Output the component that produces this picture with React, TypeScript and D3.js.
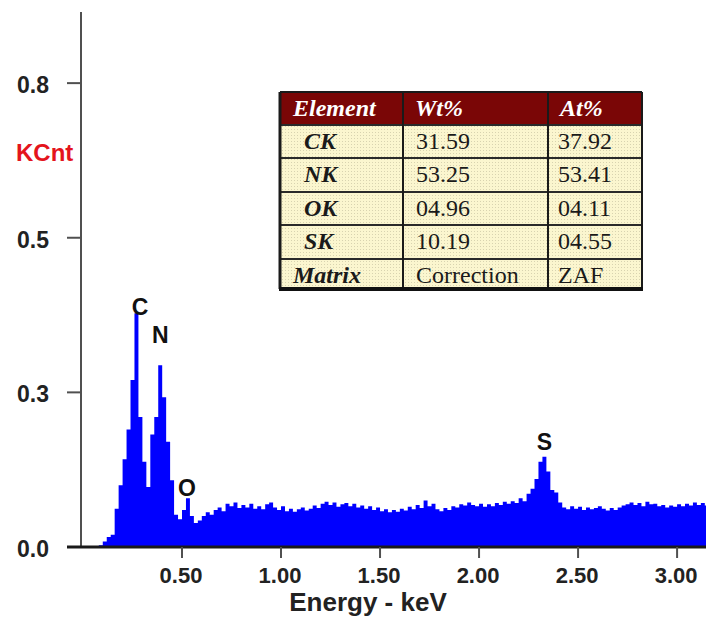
import React, { useEffect, useRef } from 'react';
import * as d3 from 'd3';

// EDS spectrum, one value per 0.02 keV channel, starting at 0.00 keV
const channelStart = 0;
const channelWidth = 0.02;
const counts = [
  0, 0, 0, 0, 0.003, 0.009, 0.016, 0.02, 0.062, 0.1,
  0.142, 0.19, 0.27, 0.378, 0.21, 0.138, 0.097, 0.182, 0.21, 0.294,
  0.242, 0.17, 0.108, 0.052, 0.045, 0.06, 0.079, 0.05, 0.039, 0.043,
  0.05, 0.056, 0.052, 0.06, 0.064, 0.058, 0.07, 0.066, 0.072, 0.063,
  0.068, 0.064, 0.07, 0.062, 0.066, 0.061, 0.069, 0.072, 0.064, 0.06,
  0.066, 0.058, 0.062, 0.057, 0.061, 0.064, 0.059, 0.062, 0.067, 0.063,
  0.07, 0.073, 0.068, 0.072, 0.065, 0.069, 0.071, 0.066, 0.07, 0.064,
  0.067, 0.062, 0.066, 0.06, 0.064, 0.058, 0.061, 0.056, 0.06, 0.057,
  0.062, 0.059, 0.065, 0.061, 0.068, 0.063, 0.075, 0.066, 0.07, 0.061,
  0.058, 0.063, 0.06, 0.066, 0.064, 0.069, 0.067, 0.072, 0.068, 0.066,
  0.07, 0.065, 0.069, 0.066, 0.071, 0.068, 0.073, 0.07, 0.074, 0.071,
  0.079, 0.074, 0.086, 0.094, 0.11, 0.138, 0.146, 0.122, 0.092, 0.088,
  0.072, 0.064, 0.061, 0.066, 0.062, 0.065, 0.06, 0.064, 0.061, 0.063,
  0.066, 0.062, 0.059, 0.063, 0.06, 0.064, 0.067, 0.069, 0.072, 0.068,
  0.071, 0.066, 0.073, 0.069, 0.07, 0.066, 0.068, 0.064, 0.067, 0.065,
  0.069, 0.066, 0.07, 0.067, 0.072, 0.068, 0.071, 0.067, 0.07,
];

// axis ticks (labels are rounded to one decimal, as in the instrument software)
const yTickValues = [0, 0.25, 0.5, 0.75];
const yTickLabels = ['0.0', '0.3', '0.5', '0.8'];
const xTickValues = [0.5, 1.0, 1.5, 2.0, 2.5, 3.0];
const xTickLabels = ['0.50', '1.00', '1.50', '2.00', '2.50', '3.00'];

// peak labels (energy, KCnt of label baseline)
const peakNames = ['C', 'N', 'O', 'S'];
const peakEnergies = [0.288, 0.39, 0.525, 2.33];
const peakLabelValues = [0.375, 0.33, 0.082, 0.157];

// quantification table
const tableHeader = ['Element', 'Wt%', 'At%'];
const elementNames = ['CK', 'NK', 'OK', 'SK', 'Matrix'];
const wtPercent = ['31.59', '53.25', '04.96', '10.19', 'Correction'];
const atPercent = ['37.92', '53.41', '04.11', '04.55', 'ZAF'];

const W = 706;
const H = 619;
const SANS = '"Liberation Sans", Arial, sans-serif';
const SERIF = '"Liberation Serif", "Times New Roman", serif';

export default function App() {
  const ref = useRef<SVGSVGElement>(null);

  useEffect(() => {
    const svg = d3.select(ref.current);
    svg.selectAll('*').remove();

    const x = d3.scaleLinear().domain([-0.01, 3.146]).range([81, 706]);
    const y = d3.scaleLinear().domain([0, 0.865]).range([547, 12]);

    const data = counts.map((v, i) => ({ e: channelStart + i * channelWidth, v }));

    // dotted cell texture of the table
    const defs = svg.append('defs');
    const pat = defs
      .append('pattern')
      .attr('id', 'dots')
      .attr('width', 3)
      .attr('height', 3)
      .attr('patternUnits', 'userSpaceOnUse');
    pat.append('rect').attr('width', 3).attr('height', 3).attr('fill', '#fbf6cf');
    pat.append('rect').attr('width', 1).attr('height', 1).attr('fill', '#d8d3b0');

    // spectrum
    const area = d3
      .area<{ e: number; v: number }>()
      .x((d) => x(d.e))
      .y0(y(0))
      .y1((d) => y(d.v))
      .curve(d3.curveStepAfter);
    svg.append('path').datum(data).attr('d', area).attr('fill', '#0000ff');

    // y axis
    svg
      .append('line')
      .attr('x1', 81)
      .attr('x2', 81)
      .attr('y1', 12)
      .attr('y2', y(0))
      .attr('stroke', '#505050')
      .attr('stroke-width', 2);
    const yt = svg.append('g');
    yTickValues.forEach((t, i) => {
      yt.append('line')
        .attr('x1', 67)
        .attr('x2', 81)
        .attr('y1', y(t))
        .attr('y2', y(t))
        .attr('stroke', '#505050')
        .attr('stroke-width', 2);
      yt.append('text')
        .attr('x', 49)
        .attr('y', y(t) + 10)
        .attr('text-anchor', 'end')
        .style('font-family', SANS)
        .style('font-weight', 'bold')
        .style('font-size', '23px')
        .attr('fill', '#222')
        .text(yTickLabels[i]);
    });
    svg
      .append('text')
      .attr('x', 16)
      .attr('y', 161)
      .style('font-family', SANS)
      .style('font-weight', 'bold')
      .style('font-size', '24px')
      .attr('fill', '#e4141c')
      .text('KCnt');

    // x axis
    svg
      .append('line')
      .attr('x1', 67)
      .attr('x2', W)
      .attr('y1', y(0))
      .attr('y2', y(0))
      .attr('stroke', '#1a1a1a')
      .attr('stroke-width', 3);
    const xt = svg.append('g');
    xTickValues.forEach((t, i) => {
      xt.append('line')
        .attr('x1', x(t))
        .attr('x2', x(t))
        .attr('y1', y(0))
        .attr('y2', y(0) + 11)
        .attr('stroke', '#505050')
        .attr('stroke-width', 2);
      xt.append('text')
        .attr('x', x(t) - 1)
        .attr('y', 583)
        .attr('text-anchor', 'middle')
        .style('font-family', SANS)
        .style('font-weight', 'bold')
        .style('font-size', '22px')
        .attr('fill', '#222')
        .text(xTickLabels[i]);
    });
    svg
      .append('text')
      .attr('x', 368)
      .attr('y', 611)
      .attr('text-anchor', 'middle')
      .style('font-family', SANS)
      .style('font-weight', 'bold')
      .style('font-size', '26px')
      .attr('fill', '#222')
      .text('Energy - keV');

    // peak labels
    peakNames.forEach((p, i) => {
      svg
        .append('text')
        .attr('x', x(peakEnergies[i]))
        .attr('y', y(peakLabelValues[i]))
        .attr('text-anchor', 'middle')
        .style('font-family', SANS)
        .style('font-weight', 'bold')
        .style('font-size', '23px')
        .attr('fill', '#111')
        .text(p);
    });

    // table
    const colX = [280, 403, 548, 642];
    const rowY = [92, 125, 158, 192, 225, 259, 289];
    const tg = svg.append('g');
    tg.append('rect')
      .attr('x', colX[0])
      .attr('y', rowY[0])
      .attr('width', colX[3] - colX[0])
      .attr('height', rowY[1] - rowY[0])
      .attr('fill', '#7a0606');
    tg.append('rect')
      .attr('x', colX[0])
      .attr('y', rowY[1])
      .attr('width', colX[3] - colX[0])
      .attr('height', rowY[6] - rowY[1])
      .attr('fill', 'url(#dots)');

    const cellText = (col: number, row: number, txt: string, header: boolean, bold: boolean, dx: number) => {
      tg.append('text')
        .attr('x', colX[col] + dx)
        .attr('y', rowY[row] + 24)
        .style('font-family', SERIF)
        .style('font-weight', bold ? 'bold' : 'normal')
        .style('font-style', bold ? 'italic' : 'normal')
        .style('font-size', '24px')
        .attr('fill', header ? '#fff' : '#1a1a1a')
        .text(txt);
    };
    tableHeader.forEach((h, c) => cellText(c, 0, h, true, true, c === 0 ? 13 : 12));
    elementNames.forEach((el, r) => {
      cellText(0, r + 1, el, false, true, el === 'Matrix' ? 13 : 24);
      cellText(1, r + 1, wtPercent[r], false, false, 13);
      cellText(2, r + 1, atPercent[r], false, false, 10);
    });

    // grid lines
    rowY.slice(1, 6).forEach((ry) => {
      tg.append('line')
        .attr('x1', colX[0])
        .attr('x2', colX[3])
        .attr('y1', ry)
        .attr('y2', ry)
        .attr('stroke', '#2a2a2a')
        .attr('stroke-width', 2);
    });
    colX.forEach((cx, i) => {
      tg.append('line')
        .attr('x1', cx)
        .attr('x2', cx)
        .attr('y1', rowY[0])
        .attr('y2', rowY[6])
        .attr('stroke', '#1a1a1a')
        .attr('stroke-width', i === 0 ? 3 : 2);
    });
    tg.append('line')
      .attr('x1', colX[0])
      .attr('x2', colX[3])
      .attr('y1', rowY[0])
      .attr('y2', rowY[0])
      .attr('stroke', '#1a1a1a')
      .attr('stroke-width', 2);
    tg.append('line')
      .attr('x1', colX[0] - 1)
      .attr('x2', colX[3] + 1)
      .attr('y1', rowY[6])
      .attr('y2', rowY[6])
      .attr('stroke', '#111')
      .attr('stroke-width', 4);
  }, []);

  return (
    <div style={{ position: 'absolute', left: 0, top: 0 }}>
      <svg ref={ref} width={W} height={H} style={{ display: 'block', background: '#fff' }} />
    </div>
  );
}
